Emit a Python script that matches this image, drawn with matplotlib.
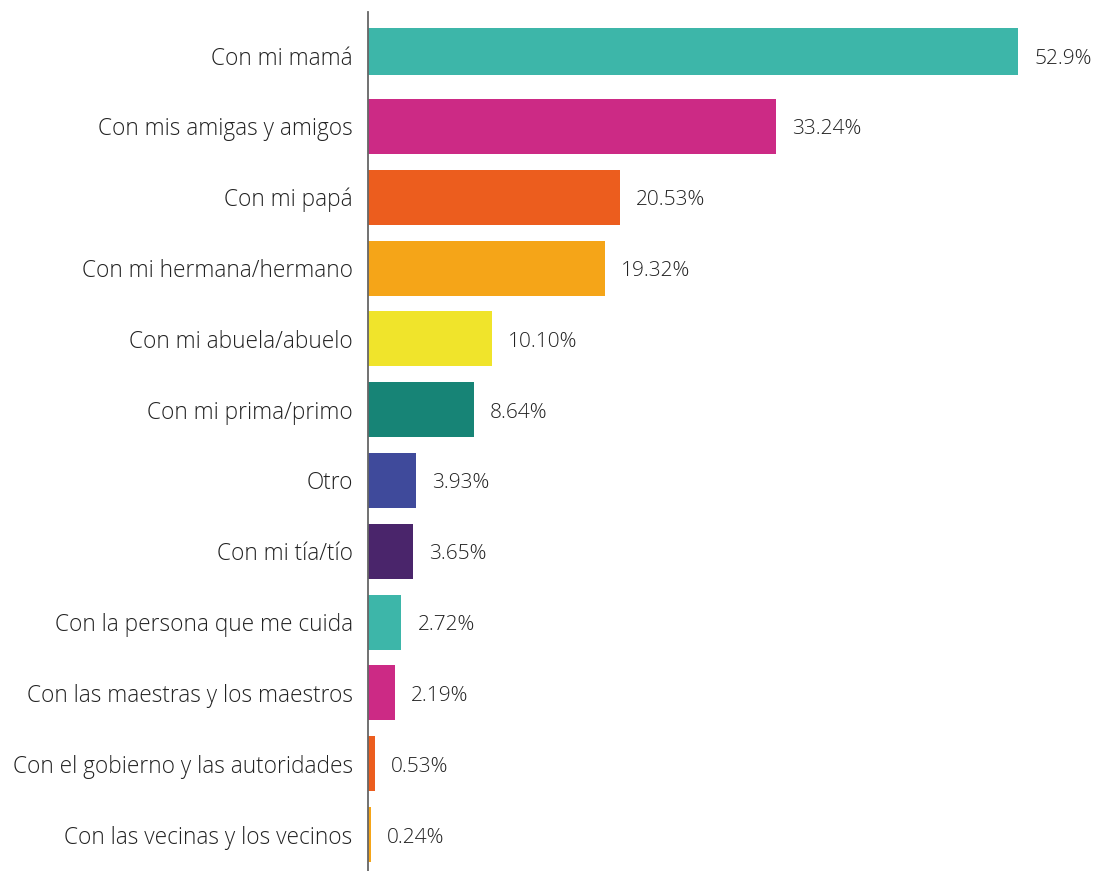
import matplotlib.pyplot as plt
import numpy as np

plt.rcParams['font.family'] = ['Open Sans', 'DejaVu Sans']

categorias = ['Con mi mamá', 'Con mis amigas y amigos', 'Con mi papá',
              'Con mi hermana/hermano', 'Con mi abuela/abuelo', 'Con mi prima/primo',
              'Otro', 'Con mi tía/tío', 'Con la persona que me cuida',
              'Con las maestras y los maestros', 'Con el gobierno y las autoridades',
              'Con las vecinas y los vecinos']
valores = [52.9, 33.24, 20.53, 19.32, 10.10, 8.64, 3.93, 3.65, 2.72, 2.19, 0.53, 0.24]
etiquetas = ['52.9%', '33.24%', '20.53%', '19.32%', '10.10%', '8.64%', '3.93%',
             '3.65%', '2.72%', '2.19%', '0.53%', '0.24%']
colores = ['#3DB6A9', '#CC2A85', '#EC5D1E', '#F5A518', '#F0E42B', '#178476',
           '#3F4A9B', '#4A256B', '#3DB6A9', '#CC2A85', '#EC5D1E', '#F5A518']

fig = plt.figure(figsize=(10.95, 8.71), dpi=100)
ax = fig.add_axes([368 / 1095, 0, 1 - 368 / 1095, 1 - 12 / 871])

y = np.arange(len(categorias))
alto = np.full(len(categorias), 0.777)
alto[0] = 0.664  # la primera barra sale algo más baja en el original
ax.barh(y - 0.777 / 2, valores, height=alto, align='edge', color=colores, zorder=2)
for yi, v, t in zip(y, valores, etiquetas):
    # etiqueta de valor a la derecha de cada barra
    ax.annotate(t, (v, yi), xytext=(16, -3), textcoords='offset pixels',
                va='center', ha='left', fontsize=15, color='#222222',
                fontweight='light')

ax.set_xlim(0, 52.9 * 727 / 650)
ax.set_ylim(11.515, -0.616)
ax.set_yticks(y, categorias)
ax.tick_params(axis='y', length=0, pad=11, labelsize=16.3, labelcolor='#222222')
for lab in ax.get_yticklabels():
    lab.set_fontweight('light')
ax.set_xticks([])
for s in ['top', 'right', 'bottom']:
    ax.spines[s].set_visible(False)
ax.spines['left'].set_color('#666666')
ax.spines['left'].set_linewidth(1.3)
ax.spines['left'].set_zorder(3)

fig.savefig('out.png', dpi=100)
